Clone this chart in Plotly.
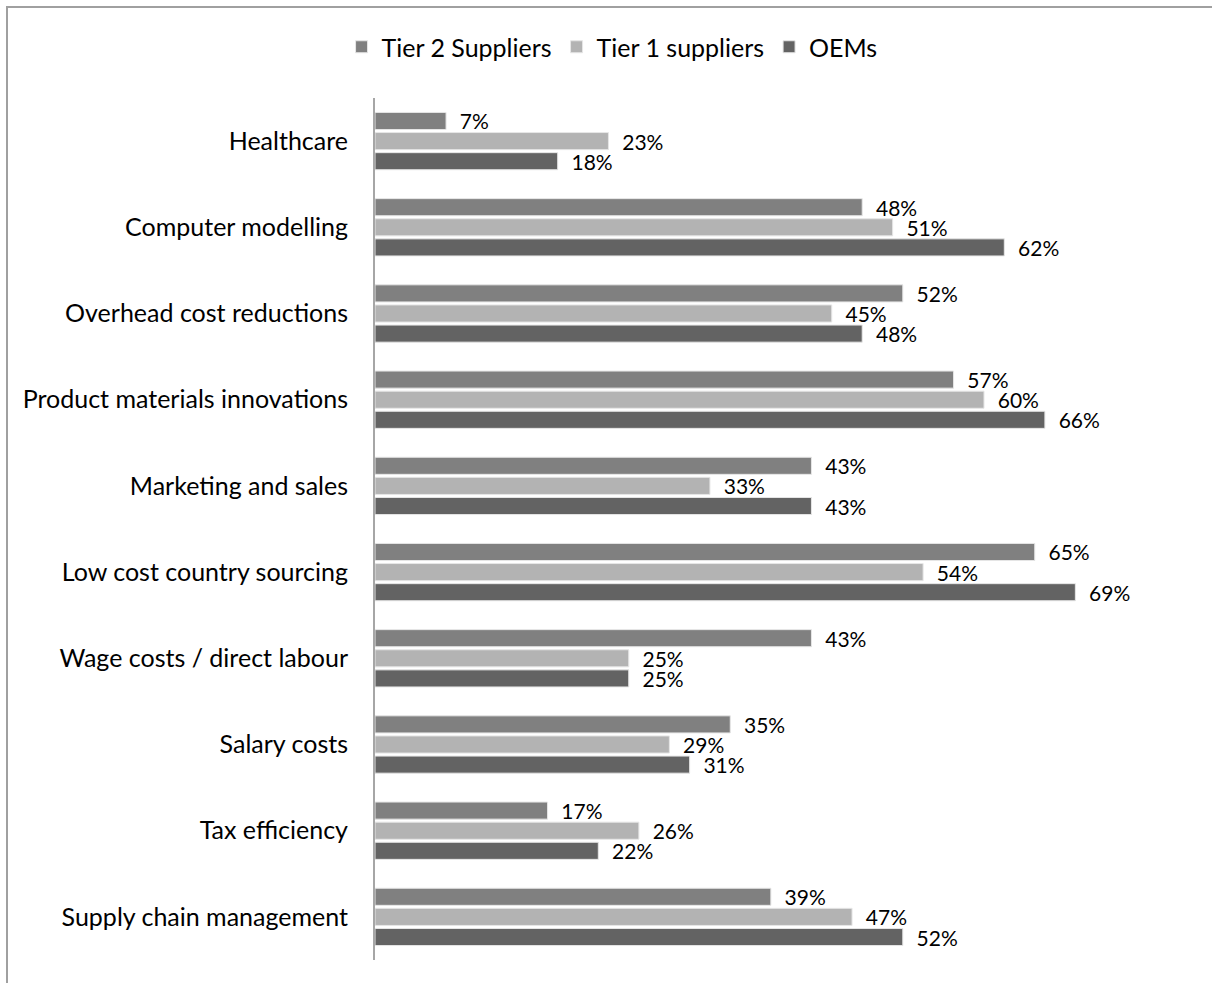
import plotly.graph_objects as go

categories = [
    "Healthcare",
    "Computer modelling",
    "Overhead cost reductions",
    "Product materials innovations",
    "Marketing and sales",
    "Low cost country sourcing",
    "Wage costs / direct labour",
    "Salary costs",
    "Tax efficiency",
    "Supply chain management",
]
tier2 = [7, 48, 52, 57, 43, 65, 43, 35, 17, 39]
tier1 = [23, 51, 45, 60, 33, 54, 25, 29, 26, 47]
oems = [18, 62, 48, 66, 43, 69, 25, 31, 22, 52]

series = [
    ("Tier 2 Suppliers", tier2, "#808080"),
    ("Tier 1 suppliers", tier1, "#b3b3b3"),
    ("OEMs", oems, "#636363"),
]

FONT = "Lato, 'Open Sans', sans-serif"

fig = go.Figure()
for name, vals, color in series:
    fig.add_trace(go.Bar(
        y=categories,
        x=vals,
        name=name,
        orientation="h",
        marker=dict(color=color, line=dict(color="#e6e6e6", width=1)),
        text=vals,
        texttemplate="  %{x}%",
        textposition="outside",
        constraintext="none",
        textfont=dict(size=21, color="#000000", family=FONT),
        cliponaxis=False,
    ))

fig.update_layout(
    width=1212,
    height=983,
    margin=dict(l=375, r=25, t=98, b=23),
    paper_bgcolor="white",
    plot_bgcolor="white",
    barmode="group",
    bargap=0.30,
    bargroupgap=0.15,
    font=dict(family=FONT, size=24, color="#000000"),
    legend=dict(
        orientation="h",
        xref="container",
        yref="container",
        x=0.505,
        xanchor="center",
        y=1 - 47 / 983,
        yanchor="middle",
        font=dict(size=25, family=FONT),
        itemwidth=30,
        traceorder="normal",
    ),
    xaxis=dict(
        range=[0, 80],
        visible=False,
        showgrid=False,
        zeroline=False,
    ),
    yaxis=dict(
        autorange="reversed",
        showline=True,
        linecolor="#a6a6a6",
        linewidth=2,
        ticks="",
        ticklabelstandoff=20,
        showgrid=False,
        tickfont=dict(size=25, family=FONT),
    ),
    shapes=[
        dict(
            type="rect",
            xref="paper",
            yref="paper",
            x0=(7 - 375) / 812,
            x1=1.2,
            y0=-0.2,
            y1=(960 - 7) / 862,
            line=dict(color="#a0a0a0", width=2),
            fillcolor="rgba(0,0,0,0)",
            layer="below",
        )
    ],
)

fig.write_html("out.html")
